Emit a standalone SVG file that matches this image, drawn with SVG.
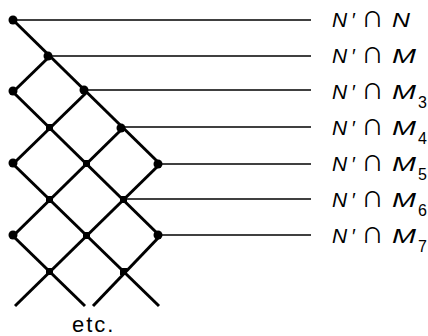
<svg xmlns="http://www.w3.org/2000/svg" width="428" height="336" viewBox="0 0 428 336">
<style>
.d{stroke:#000;stroke-width:3;fill:none;stroke-linecap:butt}
.h{stroke:#000;stroke-width:1.6;fill:none}
.n{fill:#000}
.lab{font-family:"Liberation Sans",Arial,sans-serif;font-size:21px;font-style:italic;fill:#000}
.cap{font-family:"Liberation Sans",Arial,sans-serif;font-style:normal;font-size:32px}
.pr{font-style:normal;font-size:20px}
.sub{font-style:normal;font-size:16px}
.etc{font-family:"Liberation Sans",Arial,sans-serif;font-size:22px;letter-spacing:2px;fill:#000}
</style>
<g id="connectors">
<line class="d" x1="13" y1="20" x2="160" y2="164"/>
<line class="d" x1="13" y1="92" x2="160" y2="236"/>
<line class="d" x1="13" y1="164" x2="159" y2="306"/>
<line class="d" x1="13" y1="236" x2="85" y2="306"/>
<line class="d" x1="50" y1="56" x2="13" y2="92"/>
<line class="d" x1="87" y1="92" x2="13" y2="164"/>
<line class="d" x1="123" y1="128" x2="13" y2="236"/>
<line class="d" x1="160" y1="164" x2="15" y2="306"/>
<line class="d" x1="160" y1="236" x2="93" y2="306"/>
<line class="h" x1="13" y1="20" x2="311" y2="20"/>
<line class="h" x1="50" y1="56" x2="311" y2="56"/>
<line class="h" x1="87" y1="90" x2="311" y2="90"/>
<line class="h" x1="123" y1="127" x2="311" y2="127"/>
<line class="h" x1="160" y1="164" x2="311" y2="164"/>
<line class="h" x1="123" y1="199" x2="311" y2="199"/>
<line class="h" x1="160" y1="235" x2="311" y2="235"/>
</g>
<g id="n1"><circle class="n" cx="13" cy="20" r="4.5"/></g>
<g id="n2"><circle class="n" cx="48" cy="56" r="4.5"/></g>
<g id="n3"><circle class="n" cx="13" cy="91" r="4.5"/></g>
<g id="n4"><circle class="n" cx="84" cy="90" r="4.5"/></g>
<g id="n5"><rect class="n" x="46" y="124" width="7" height="7"/></g>
<g id="n6"><circle class="n" cx="121" cy="128" r="4.5"/></g>
<g id="n7"><circle class="n" cx="13" cy="163" r="4.5"/></g>
<g id="n8"><rect class="n" x="83" y="160" width="7" height="7"/></g>
<g id="n9"><circle class="n" cx="158" cy="164" r="4.5"/></g>
<g id="n10"><rect class="n" x="46" y="196" width="7" height="7"/></g>
<g id="n11"><rect class="n" x="120" y="196" width="7" height="7"/></g>
<g id="n12"><circle class="n" cx="13" cy="235" r="4.5"/></g>
<g id="n13"><rect class="n" x="83" y="232" width="7" height="7"/></g>
<g id="n14"><circle class="n" cx="158" cy="235" r="4.5"/></g>
<g id="n15"><rect class="n" x="46" y="268" width="7" height="7"/></g>
<g id="n16"><rect class="n" x="120" y="268" width="7" height="7"/></g>
<g id="labels">
<text class="lab" x="332" y="27">N<tspan class="pr" x="352">′</tspan><tspan class="cap" x="361">∩</tspan><tspan x="392" textLength="18" lengthAdjust="spacingAndGlyphs">N</tspan></text>
<text class="lab" x="332" y="63">N<tspan class="pr" x="352">′</tspan><tspan class="cap" x="361">∩</tspan><tspan x="392" textLength="24" lengthAdjust="spacingAndGlyphs">M</tspan></text>
<text class="lab" x="332" y="99">N<tspan class="pr" x="352">′</tspan><tspan class="cap" x="361">∩</tspan><tspan x="392" textLength="24" lengthAdjust="spacingAndGlyphs">M</tspan><tspan class="sub" x="418" dy="9">3</tspan></text>
<text class="lab" x="332" y="135">N<tspan class="pr" x="352">′</tspan><tspan class="cap" x="361">∩</tspan><tspan x="392" textLength="24" lengthAdjust="spacingAndGlyphs">M</tspan><tspan class="sub" x="418" dy="9">4</tspan></text>
<text class="lab" x="332" y="171">N<tspan class="pr" x="352">′</tspan><tspan class="cap" x="361">∩</tspan><tspan x="392" textLength="24" lengthAdjust="spacingAndGlyphs">M</tspan><tspan class="sub" x="418" dy="9">5</tspan></text>
<text class="lab" x="332" y="207">N<tspan class="pr" x="352">′</tspan><tspan class="cap" x="361">∩</tspan><tspan x="392" textLength="24" lengthAdjust="spacingAndGlyphs">M</tspan><tspan class="sub" x="418" dy="9">6</tspan></text>
<text class="lab" x="332" y="243">N<tspan class="pr" x="352">′</tspan><tspan class="cap" x="361">∩</tspan><tspan x="392" textLength="24" lengthAdjust="spacingAndGlyphs">M</tspan><tspan class="sub" x="418" dy="9">7</tspan></text>
<text class="etc" x="72" y="332">etc.</text>
</g>
</svg>
